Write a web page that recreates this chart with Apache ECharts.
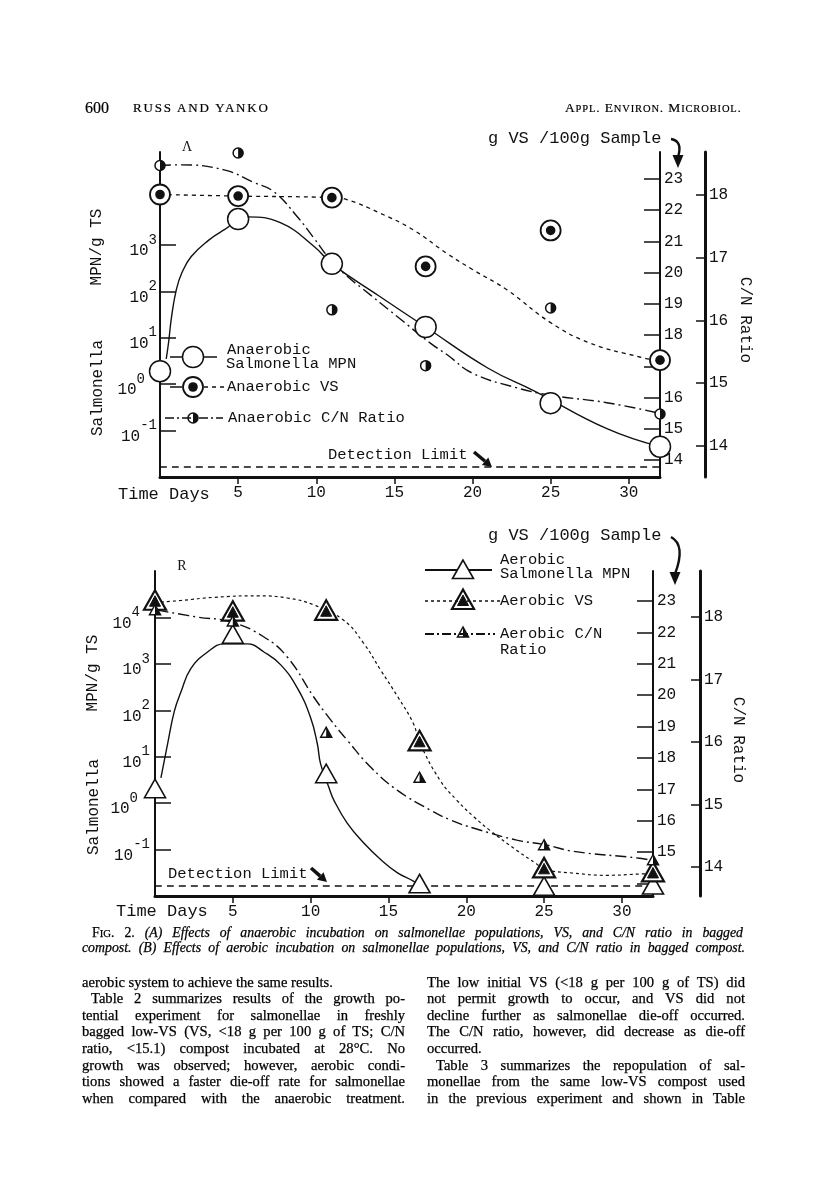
<!DOCTYPE html>
<html><head><meta charset="utf-8">
<script src="https://cdn.jsdelivr.net/npm/echarts@6/dist/echarts.min.js"></script>
<style>
html,body{margin:0;padding:0;background:#fff;}
#page{position:relative;width:816px;height:1201px;overflow:hidden;background:#fff;}
#chart{position:absolute;left:0;top:0;width:816px;height:1201px;}
.t{position:absolute;font-family:"Liberation Serif","DejaVu Serif",serif;color:#000;white-space:nowrap;-webkit-text-stroke:0.2px #000;}
.ln{position:absolute;font-family:"Liberation Serif","DejaVu Serif",serif;font-size:14.6px;line-height:17px;height:17px;color:#000;overflow:visible;-webkit-text-stroke:0.25px #000;}
.j{text-align:justify;text-align-last:justify;}
.cap{font-style:italic;font-size:13.8px;}
.sc{font-size:0.78em;}
</style>
</head><body>
<div id="page">
<div id="chart"></div>
</div>
<script>
// ---------------- data ----------------
const days = [0, 5, 11, 17, 25, 32];
const dayTicks = [5, 10, 15, 20, 25, 30];
const mpnTicksA = [0.1, 1, 10, 100, 1000];
const mpnTicksB = [0.1, 1, 10, 100, 1000, 10000];
const vsTicks = [14, 15, 16, 17, 18, 19, 20, 21, 22, 23];
const vsLabelsA = [14, 15, 16, 18, 19, 20, 21, 22, 23];
const vsLabelsB = [15, 16, 17, 18, 19, 20, 21, 22, 23];
const cnTicks = [14, 15, 16, 17, 18];
const detectionLimit = 0.0165;

// Panel A: anaerobic incubation
const anaMPN = [1.9, 3600, 390, 17, 0.39, 0.045];
const anaVS  = [22.5, 22.45, 22.4, 20.2, 21.35, 17.2];
const anaCN  = [18.47, 18.67, 16.17, 15.28, 16.2, 14.51];
// hand-drawn fitted curves of panel A as [day, value]
const anaMPNCurve = [[0.4,3.5],[0.55,8],[0.75,30],[1.05,110],[1.4,250],[2,560],[3.1,1250],[4.1,2100],[5.6,4000],[7.7,3000],[9.9,900],[11,390],[14,80],[17,17],[21,2.2],[24,0.7],[28.6,0.11],[32,0.045]];
const anaVSCurve  = [[0,22.5],[5,22.45],[11,22.4],[12,22.33],[14.1,21.9],[16.2,21.37],[18.4,20.6],[20,20.1],[22.2,19.45],[25,18.4],[27.5,17.75],[30.7,17.3],[32,17.17]];
const anaCNCurve  = [[0,18.47],[1.3,18.48],[4.1,18.4],[6,18.2],[7.3,18.05],[8.8,17.65],[9.8,17.33],[10.9,16.97],[12,16.7],[13,16.5],[15.2,16.06],[17.3,15.64],[18.4,15.45],[20,15.16],[22.8,14.93],[25,14.81],[28.6,14.69],[32,14.52]];

// Panel B: aerobic incubation
const aerMPN = [1.9, 4000, 4.0, 0.017, 0.015, 0.016];
const aerVS  = [22.98, 22.63, 22.66, 18.5, 14.45, 14.32];
const aerCN  = [18.1, 17.92, 16.14, 15.42, 14.34, 14.1];
const aerMPNCurve = [[0.38,3.5],[0.81,19],[1.24,95],[1.67,250],[2.3,790],[3.38,1800],[4.44,2700],[5.94,2700],[7,1800],[8.08,950],[9.15,300],[10,69],[10.43,19],[10.64,7],[11.17,2.2],[11.5,1.15],[12.35,0.37],[13.4,0.14],[14.5,0.061],[15.56,0.032],[16.6,0.021],[17,0.017]];
const aerVSCurve  = [[0,22.95],[1.67,23.02],[3.8,23.12],[6.6,23.17],[8.5,23.1],[10.2,22.88],[12.1,22.4],[13.4,21.66],[14.5,20.8],[15.6,19.95],[16.6,19.1],[17,18.5],[18.3,17.3],[19.4,16.65],[20.5,16.12],[21.5,15.7],[23.25,15.05],[24.5,14.63],[25,14.45],[26.9,14.33],[29,14.26],[31.15,14.3],[32,14.32]];
const aerCNCurve  = [[0.17,18.11],[2.7,18.0],[4.9,17.92],[7,17.68],[8.5,17.36],[10.2,16.72],[11.3,16.35],[12.35,16.03],[13.85,15.6],[15.56,15.23],[17.7,14.91],[19,14.75],[20.5,14.62],[23.25,14.43],[25,14.36],[26.9,14.25],[31.15,14.14],[32,14.1]];

// ---------------- page text ----------------
const headerLeftNum = '600';
const headerLeftNames = 'RUSS AND YANKO';
const captionLines = [
  {x:92, w:651, html:'<span style="font-style:normal">F<span class="sc">IG</span>. 2.</span> (A) Effects of anaerobic incubation on salmonellae populations, VS, and C/N ratio in bagged', j:true},
  {x:82, w:663, html:'compost. (B) Effects of aerobic incubation on salmonellae populations, VS, and C/N ratio in bagged compost.', j:true}
];
const leftColumn = [
  ['aerobic system to achieve the same results.', false, false],
  ['Table 2 summarizes results of the growth po-', true, true],
  ['tential experiment for salmonellae in freshly', true, false],
  ['bagged low-VS (VS, <18 g per 100 g of TS; C/N', true, false],
  ['ratio, <15.1) compost incubated at 28°C. No', true, false],
  ['growth was observed; however, aerobic condi-', true, false],
  ['tions showed a faster die-off rate for salmonellae', true, false],
  ['when compared with the anaerobic treatment.', true, false]
];
const rightColumn = [
  ['The low initial VS (<18 g per 100 g of TS) did', true, false],
  ['not permit growth to occur, and VS did not', true, false],
  ['decline further as salmonellae die-off occurred.', true, false],
  ['The C/N ratio, however, did decrease as die-off', true, false],
  ['occurred.', false, false],
  ['Table 3 summarizes the repopulation of sal-', true, true],
  ['monellae from the same low-VS compost used', true, false],
  ['in the previous experiment and shown in Table', true, false]
];

const page = document.getElementById('page');
function addDiv(cls, css, html){ const d=document.createElement('div'); d.className=cls; d.style.cssText=css; d.innerHTML=html; page.appendChild(d); return d; }
function esc(s){ return s.replace(/&/g,'&amp;').replace(/</g,'&lt;').replace(/>/g,'&gt;'); }
addDiv('t', 'left:85px;top:99px;font-size:16px;', headerLeftNum);
addDiv('t', 'left:133px;top:100px;font-size:13px;letter-spacing:1.8px;', headerLeftNames);
addDiv('t', 'left:565px;top:100px;font-size:13.5px;letter-spacing:0.85px;', 'A<span class="sc">PPL</span>. E<span class="sc">NVIRON</span>. M<span class="sc">ICROBIOL</span>.');
captionLines.forEach((c,i)=>{ addDiv('ln cap'+(c.j?' j':''), 'left:'+c.x+'px;width:'+c.w+'px;top:'+(924+i*15)+'px;', c.html); });
function column(lines, x0, w){
  lines.forEach((l,i)=>{
    const ind = l[2] ? 9 : 0;
    addDiv('ln'+(l[1]?' j':''), 'left:'+(x0+ind)+'px;width:'+(w-ind)+'px;top:'+(973.5+i*16.6)+'px;', esc(l[0]));
  });
}
column(leftColumn, 82, 323);
column(rightColumn, 427, 318);

// ---------------- chart ----------------
const ink = '#111';
const mono = '"Liberation Mono","DejaVu Sans Mono",monospace';
const serif = '"Liberation Serif","DejaVu Serif",serif';
function pts(xs, ys){ return xs.map((x,i)=>[x, ys[i]]); }
// labels 10^n; some labels sit further left in the figure (where a marker covers the axis)
function pow10Fmt(shift){ return function(v){ const e = Math.round(Math.log10(v));
  return '{b|10}{s|' + e + '}' + (shift[e] ? '{p' + shift[e] + '| }' : ''); }; }

function xAxisCfg(g){ return {
  gridIndex:g, type:'value', min:0, max:32,
  axisLine:{show:true, onZero:false, lineStyle:{color:ink, width:3}},
  axisTick:{show:true, customValues:dayTicks, length:7, lineStyle:{color:ink, width:1.5}},
  axisLabel:{show:true, customValues:dayTicks, color:ink, fontFamily:mono, fontSize:16, margin:8},
  splitLine:{show:false}
};}
function logAxisCfg(g, ticks, margin, shift){ return {
  gridIndex:g, type:'log', logBase:10, min:0.01, max:100000, position:'left',
  axisLine:{show:true, onZero:false, lineStyle:{color:ink, width:2}},
  axisTick:{show:true, inside:true, length:16, customValues:ticks, lineStyle:{color:ink, width:1.5}},
  axisLabel:{show:true, customValues:ticks, formatter:pow10Fmt(shift), margin:margin, color:ink,
    rich:{ b:{fontFamily:mono, fontSize:16, color:ink, lineHeight:28, verticalAlign:'bottom'},
           s:{fontFamily:mono, fontSize:14, color:ink, lineHeight:28, verticalAlign:'top', padding:[2,0,0,0]},
           p9:{width:9, fontSize:10}, p10:{width:10, fontSize:10}, p12:{width:12, fontSize:10} } },
  splitLine:{show:false}
};}
function linAxisCfg(g, min, max, ticks, labels, offset, tickLen, lw){ return {
  gridIndex:g, type:'value', position:'right', offset:offset, min:min, max:max,
  axisLine:{show:true, onZero:false, lineStyle:{color:ink, width:lw}},
  axisTick:{show:true, inside:true, length:tickLen, customValues:ticks, lineStyle:{color:ink, width:1.5}},
  axisLabel:{show:true, customValues:labels, color:ink, fontFamily:mono, fontSize:16, margin:4, padding:[0,0,6,0]},
  splitLine:{show:false}
};}
function curve(name, data, xi, yi, dash, w){ return {
  name:name, type:'line', xAxisIndex:xi, yAxisIndex:yi, data:data, smooth:0.45,
  showSymbol:false, symbol:'none', lineStyle:{color:ink, width:w, type:dash}, z:2, silent:true
};}
function markers(name, xs, ys, xi, yi, draw){ return {
  name:name, type:'custom', xAxisIndex:xi, yAxisIndex:yi, data:pts(xs, ys), z:5, silent:true,
  renderItem:function(params, api){ const p = api.coord([api.value(0), api.value(1)]); return draw(p[0], p[1]); }
};}

const drawOpenCircle = (x,y)=>({type:'circle', shape:{cx:x,cy:y,r:10.5}, style:{fill:'#fff', stroke:ink, lineWidth:1.5}});
const drawDotCircle = (x,y)=>({type:'group', children:[
  {type:'circle', shape:{cx:x,cy:y,r:10}, style:{fill:'#fff', stroke:ink, lineWidth:1.8}},
  {type:'circle', shape:{cx:x,cy:y,r:4.8}, style:{fill:ink}} ]});
const drawHalfCircle = (x,y)=>({type:'group', children:[
  {type:'circle', shape:{cx:x,cy:y,r:5}, style:{fill:'#fff', stroke:ink, lineWidth:1.5}},
  {type:'sector', shape:{cx:x,cy:y,r0:0,r:5,startAngle:-Math.PI/2,endAngle:Math.PI/2,clockwise:true}, style:{fill:ink}} ]});
const drawOpenTri = (x,y)=>({type:'polygon', shape:{points:[[x,y-11],[x-10.5,y+7.5],[x+10.5,y+7.5]]}, style:{fill:'#fff', stroke:ink, lineWidth:1.6, lineJoin:'miter'}});
const drawVSTri = (x,y)=>({type:'group', children:[
  {type:'polygon', shape:{points:[[x,y-11.5],[x-11,y+8],[x+11,y+8]]}, style:{fill:'#fff', stroke:ink, lineWidth:2.2}},
  {type:'polygon', shape:{points:[[x,y-6],[x-5.5,y+4.5],[x+5.5,y+4.5]]}, style:{fill:ink, stroke:ink, lineWidth:1}} ]});
const drawHalfTri = (x,y)=>({type:'group', children:[
  {type:'polygon', shape:{points:[[x,y-6],[x-5.5,y+4],[x+5.5,y+4]]}, style:{fill:'#fff', stroke:ink, lineWidth:1.5}},
  {type:'polygon', shape:{points:[[x,y-6],[x+5.5,y+4],[x,y+4]]}, style:{fill:ink}} ]});

const dashVS = [4,4];
const dashVSB = [3,3];
const dashCN = [11,4,2,4];
const dashDL = [7,5];

function txt(x, y, s, size, extra){ return Object.assign({type:'text', x:x, y:y, z:10, style:{text:s, font:(size||16)+'px '+mono, fill:ink, textAlign:'left', textVerticalAlign:'middle', verticalAlign:'middle'}}, extra||{}); }
function rtxt(x, y, s, rot){ return {type:'text', x:x, y:y, rotation:rot, z:10, style:{text:s, font:'16px '+mono, fill:ink, textAlign:'center', textVerticalAlign:'middle', verticalAlign:'middle'}}; }
function seg(x1,y1,x2,y2,w,dash){ return {type:'line', z:8, shape:{x1:x1,y1:y1,x2:x2,y2:y2}, style:{stroke:ink, lineWidth:w, lineDash:dash||null}}; }
function arrow(x1,y1,x2,y2){ const a=Math.atan2(y2-y1,x2-x1), L=9, W=5; const bx=x2-L*Math.cos(a), by=y2-L*Math.sin(a);
  return [ seg(x1,y1,bx,by,3.5), {type:'polygon', z:8, shape:{points:[[x2,y2],[bx+W*Math.sin(a),by-W*Math.cos(a)],[bx-W*Math.sin(a),by+W*Math.cos(a)]]}, style:{fill:ink}} ]; }
function hook(x1,y1,cx,cy,x2,y2){ return [
  {type:'bezierCurve', z:8, shape:{x1:x1,y1:y1,cpx1:cx,cpy1:cy,x2:x2,y2:y2}, style:{stroke:ink, lineWidth:2.4, fill:null}},
  {type:'polygon', z:8, shape:{points:[[x2-5.5,y2-2],[x2+5.5,y2-2],[x2,y2+11]]}, style:{fill:ink}} ]; }
function place(draw, x, y){ return Object.assign({z:9}, draw(x, y)); }

const graphics = [].concat(
  // panel A
  [ {type:'text', x:187, y:147, z:10, style:{text:'Λ', font:'14px '+serif, fill:ink, textAlign:'center', verticalAlign:'middle', textVerticalAlign:'middle'}},
    rtxt(97, 247, 'MPN/g TS', Math.PI/2), rtxt(98, 388, 'Salmonella', Math.PI/2),
    txt(118, 494, 'Time Days', 17),
    txt(488, 138, 'g VS /100g Sample', 17),
    rtxt(745, 320, 'C/N Ratio', -Math.PI/2),
    txt(328, 455, 'Detection Limit', 15.5),
    seg(170,357,217,357,1.5), place(drawOpenCircle,193,357),
    txt(227, 350, 'Anaerobic', 15.5), txt(226, 364, 'Salmonella MPN', 15.5),
    seg(170,387,182,387,1.5), seg(204,387,224,387,1.5,dashVS), place(drawDotCircle,193,387),
    txt(227, 387, 'Anaerobic VS', 15.5),
    seg(165,418,223,418,1.5,[9,3,2,3]), place(drawHalfCircle,193,418),
    txt(228, 418, 'Anaerobic C/N Ratio', 15.5) ],
  hook(671,139,683,141,678,157),
  arrow(474,452,492,467),
  // panel B
  [ {type:'text', x:182, y:566, z:10, style:{text:'R', font:'14px '+serif, fill:ink, textAlign:'center', verticalAlign:'middle', textVerticalAlign:'middle'}},
    rtxt(93, 673, 'MPN/g TS', Math.PI/2), rtxt(94, 807, 'Salmonella', Math.PI/2),
    txt(116, 911, 'Time Days', 17),
    txt(488, 535, 'g VS /100g Sample', 17),
    rtxt(738, 740, 'C/N Ratio', -Math.PI/2),
    txt(168, 874, 'Detection Limit', 15.5),
    seg(425,570,492,570,2), place(drawOpenTri,463,571),
    txt(500, 560, 'Aerobic', 15.5), txt(500, 574, 'Salmonella MPN', 15.5),
    seg(425,601,500,601,1.3,dashVSB), place(drawVSTri,463,601),
    txt(500, 601, 'Aerobic VS', 15.5),
    seg(425,634,495,634,2,[9,3,2,3]), place(drawHalfTri,463,633),
    txt(500, 634, 'Aerobic C/N', 15.5), txt(500, 650, 'Ratio', 15.5) ],
  hook(671,537,686,545,675,574),
  arrow(311,868,327,882)
);

const option = {
  animation:false,
  backgroundColor:'transparent',
  grid:[ {left:160, top:152, width:500, height:325, containLabel:false},
         {left:155, top:571, width:498, height:325, containLabel:false} ],
  xAxis:[ xAxisCfg(0), xAxisCfg(1) ],
  yAxis:[
    logAxisCfg(0, mpnTicksA, 3, {0:12}),
    linAxisCfg(0, 13.46, 23.86, vsTicks, vsLabelsA, 0, 16, 2),
    linAxisCfg(0, 13.506, 18.685, cnTicks, cnTicks, 45, 9, 3),
    logAxisCfg(1, mpnTicksB, 5, {4:10, 0:12}),
    linAxisCfg(1, 13.6, 23.96, vsTicks, vsLabelsB, 0, 16, 2),
    linAxisCfg(1, 13.536, 18.736, cnTicks, cnTicks, 47, 9, 3)
  ],
  series:[
    curve('Detection limit A', [[0,detectionLimit],[32,detectionLimit]], 0, 0, dashDL, 1.5),
    curve('Anaerobic Salmonella MPN', anaMPNCurve, 0, 0, 'solid', 1.4),
    curve('Anaerobic VS', anaVSCurve, 0, 1, dashVS, 1.3),
    curve('Anaerobic C/N Ratio', anaCNCurve, 0, 2, dashCN, 1.4),
    markers('Anaerobic Salmonella MPN pts', days, anaMPN, 0, 0, drawOpenCircle),
    markers('Anaerobic VS pts', days, anaVS, 0, 1, drawDotCircle),
    markers('Anaerobic C/N pts', days, anaCN, 0, 2, drawHalfCircle),

    curve('Detection limit B', [[0,detectionLimit],[32,detectionLimit]], 1, 3, dashDL, 1.5),
    curve('Aerobic Salmonella MPN', aerMPNCurve, 1, 3, 'solid', 1.4),
    curve('Aerobic VS', aerVSCurve, 1, 4, dashVSB, 1.2),
    curve('Aerobic C/N Ratio', aerCNCurve, 1, 5, dashCN, 1.4),
    markers('Aerobic Salmonella MPN pts', days, aerMPN, 1, 3, drawOpenTri),
    markers('Aerobic VS pts', days, aerVS, 1, 4, drawVSTri),
    markers('Aerobic C/N pts', days, aerCN, 1, 5, drawHalfTri)
  ],
  graphic:{elements:graphics}
};
const chart = echarts.init(document.getElementById('chart'), null, {renderer:'canvas', width:816, height:1201});
chart.setOption(option);
</script>
</body></html>
